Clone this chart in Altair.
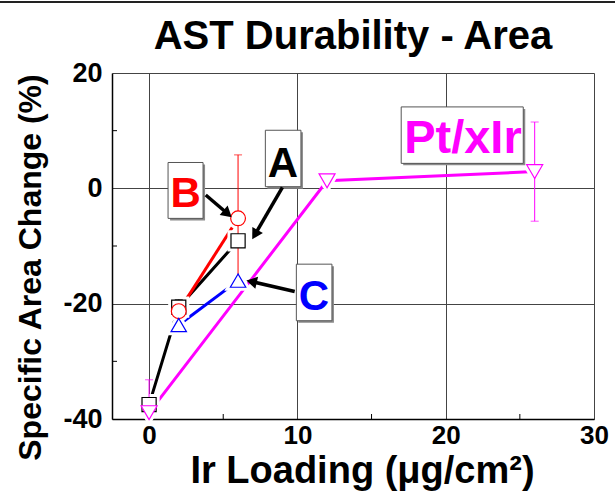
import math
import altair as alt
import pandas as pd

# ---------------- data ----------------
series_names = ["A", "B", "C", "Pt/xIr"]
series_colors = ["black", "#FF0000", "#0000FF", "#FF00FF"]
series_shapes = ["square", "circle", "triangle-up", "triangle-down"]
series_sizes = [200, 256, 324, 380]

a_x = [0, 2, 6]
a_y = [-37.5, -20.6, -9.1]
a_err = [0.9, 1.3, 0.0]

b_x = [2, 6]
b_y = [-21.3, -5.2]
b_err = [0.0, 11.0]

c_x = [2, 6]
c_y = [-23.7, -16.0]
c_err = [0.0, 0.0]

p_x = [0, 12, 26]
p_y = [-38.9, 1.3, 2.9]
p_err = [5.7, 0.0, 8.6]

x_ticks = [0, 10, 20, 30]
y_ticks = [-40, -20, 0, 20]
x_minor = [5, 15, 25]
y_minor = [-30, -10, 10]

chart_title = "AST Durability - Area"
x_title = "Ir Loading (μg/cm²)"
y_title = "Specific Area Change (%)"

# annotation labels
label_text = ["B", "A", "C", "Pt/xIr"]
label_x = [2.47, 9.03, 11.12, 21.16]
label_y = [-3.2, 2.0, -21.05, 6.16]
label_size = [42, 42, 42, 47]
label_colors = ["#FF0000", "black", "#0000FF", "#FF00FF"]
box_x1 = [1.28, 7.84, 9.93, 17.0]
box_x2 = [3.64, 10.24, 12.33, 25.23]
box_y1 = [4.48, 10.07, -13.15, 14.12]
box_y2 = [-5.21, 0.28, -22.96, 4.33]

# arrows (from label to point)
arrow_from_x = [3.82, 8.99, 9.82]
arrow_from_y = [-1.16, 0.17, -17.9]
arrow_to_x = [5.66, 6.90, 6.45]
arrow_to_y = [-5.19, -9.07, -15.9]

# ---------------- layout ----------------
W, H = 482, 346
XMIN, XMAX = -2.5, 30
YMIN, YMAX = -40, 20
kx = W / (XMAX - XMIN)
ky = H / (YMAX - YMIN)
FONT = "Liberation Sans, Arial, sans-serif"

rows = []
for name, xs_, ys_, es_ in [("A", a_x, a_y, a_err), ("B", b_x, b_y, b_err),
                            ("C", c_x, c_y, c_err), ("Pt/xIr", p_x, p_y, p_err)]:
    for i, (x, y, e) in enumerate(zip(xs_, ys_, es_)):
        rows.append({"s": name, "x": x, "y": y, "err": e, "lo": y - e, "hi": y + e, "o": i})
df = pd.DataFrame(rows)
df_err = df[df["err"] > 0]

xs = alt.X("x:Q", scale=alt.Scale(domain=[XMIN, XMAX], nice=False, zero=False),
           axis=alt.Axis(values=x_ticks, title=x_title, grid=True,
                         gridColor="#444", gridWidth=1, ticks=False,
                         domainColor="black", domainWidth=1.5,
                         labelFont=FONT, labelFontWeight="bold", labelFontSize=26,
                         labelColor="black", labelPadding=3, labelFlush=False, labelOverlap=False,
                         labelExpr="toString(datum.value)",
                         titleFont=FONT, titleFontWeight="bold", titleFontSize=38,
                         titleColor="black", titleBaseline="alphabetic", titleY=63, titleX=250))
ys = alt.Y("y:Q", scale=alt.Scale(domain=[YMIN, YMAX], nice=False, zero=False),
           axis=alt.Axis(values=y_ticks, title=y_title, grid=True,
                         gridColor="#444", gridWidth=1, ticks=False,
                         domainColor="black", domainWidth=1.5,
                         labelFont=FONT, labelFontWeight="bold",
                         labelFontSize=27, labelColor="black", labelPadding=10,
                         labelFlush=False, labelOverlap=False,
                         labelExpr="toString(datum.value)",
                         titleFont=FONT, titleFontWeight="bold",
                         titleFontSize=32, titleColor="black", titleBaseline="alphabetic",
                         titleX=-72, titleY=194, titleAngle=270))

col = alt.Color("s:N", scale=alt.Scale(domain=series_names, range=series_colors), legend=None)
shp = alt.Shape("s:N", scale=alt.Scale(domain=series_names, range=series_shapes), legend=None)
siz = alt.Size("s:N", scale=alt.Scale(domain=series_names, range=series_sizes), legend=None)

base = alt.Chart(df)

lines = base.mark_line(strokeWidth=3).encode(x=xs, y=ys, color=col, order="o:Q", detail="s:N")

halo = base.mark_point(fill="white", stroke="white", strokeWidth=7, opacity=1, fillOpacity=1).encode(
    x="x:Q", y="y:Q", shape=shp, size=siz)

err_rule = alt.Chart(df_err).mark_rule(strokeWidth=1, clip=True).encode(
    x="x:Q", y="lo:Q", y2="hi:Q", color=col)
cap_hi = alt.Chart(df_err).mark_tick(orient="horizontal", size=8, thickness=1, clip=True).encode(
    x="x:Q", y="hi:Q", color=col)
cap_lo = alt.Chart(df_err).mark_tick(orient="horizontal", size=8, thickness=1, clip=True).encode(
    x="x:Q", y="lo:Q", color=col)

markers = base.mark_point(filled=False, fill="white", fillOpacity=1, strokeWidth=1.2, opacity=1).encode(
    x="x:Q", y="y:Q", color=col, shape=shp, size=siz)

# minor ticks
df_xm = pd.DataFrame({"x": x_minor})
df_ym = pd.DataFrame({"y": y_minor})
xminor = alt.Chart(df_xm).mark_rule(color="black", strokeWidth=1).encode(
    x="x:Q", y=alt.value(H), y2=alt.value(H - 5))
yminor = alt.Chart(df_ym).mark_rule(color="black", strokeWidth=1).encode(
    y="y:Q", x=alt.value(0), x2=alt.value(5))

# annotation boxes
df_box = pd.DataFrame({"x1": box_x1, "x2": box_x2, "y1": box_y1, "y2": box_y2})
box_shadow = alt.Chart(df_box).mark_rect(fill="#8a8a8a", xOffset=2, x2Offset=2, yOffset=2, y2Offset=2).encode(
    x="x1:Q", x2="x2:Q", y="y1:Q", y2="y2:Q")
box = alt.Chart(df_box).mark_rect(fill="white", stroke="#555", strokeWidth=1).encode(
    x="x1:Q", x2="x2:Q", y="y1:Q", y2="y2:Q")

df_lab = pd.DataFrame({"t": label_text, "x": label_x, "y": label_y, "fs": label_size, "c": label_colors})
labels = alt.Chart(df_lab).mark_text(font=FONT, fontWeight="bold", baseline="alphabetic",
                                     align="center").encode(
    x="x:Q", y="y:Q", text="t:N", size=alt.Size("fs:Q", scale=None), color=alt.Color("c:N", scale=None))

# arrows
head_len = 7.0
arr_rows = []
for fx, fy, tx, ty in zip(arrow_from_x, arrow_from_y, arrow_to_x, arrow_to_y):
    dxp = (tx - fx) * kx
    dyp = -(ty - fy) * ky
    L = math.hypot(dxp, dyp)
    ux, uy = dxp / L, dyp / L
    cx = tx - head_len * ux / kx
    cy = ty + head_len * uy / ky
    ang = math.degrees(math.atan2(ux, -uy)) % 360
    arr_rows.append({"fx": fx, "fy": fy, "cx": cx, "cy": cy, "ang": ang})
df_arr = pd.DataFrame(arr_rows)
arrow_lines = alt.Chart(df_arr).mark_rule(color="black", strokeWidth=3.5).encode(
    x="fx:Q", y="fy:Q", x2="cx:Q", y2="cy:Q")
arrow_heads = alt.Chart(df_arr).mark_point(shape="triangle-up", filled=True, color="black",
                                           size=150, opacity=1).encode(
    x="cx:Q", y="cy:Q", angle=alt.Angle("ang:Q", scale=None))

# chart title as text above the plot
title_mark = alt.Chart(pd.DataFrame({"t": [chart_title]})).mark_text(
    font=FONT, fontWeight="bold", fontSize=40, color="black", baseline="alphabetic", align="center"
).encode(text="t:N", x=alt.value(W / 2), y=alt.value(-24))

top_line = alt.Chart(pd.DataFrame({"k": [0]})).mark_rule(color="#222", strokeWidth=2).encode(
    x=alt.value(-112), x2=alt.value(503), y=alt.value(-71))

chart = alt.layer(
    lines, xminor, yminor, halo, err_rule, cap_hi, cap_lo, markers,
    box_shadow, box, labels, arrow_lines, arrow_heads, title_mark, top_line
).properties(
    width=W, height=H,
    autosize=alt.AutoSizeParams(type="none"),
    padding={"left": 112, "top": 73, "right": 21, "bottom": 83},
).configure_view(stroke="black", strokeWidth=1.5).configure(background="white")

chart.save("out.html", embed_options={"renderer": "svg", "actions": False})
